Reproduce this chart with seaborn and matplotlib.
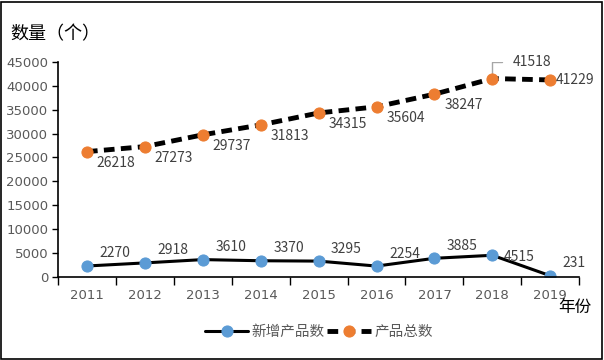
import numpy as np
import pandas as pd
import matplotlib.pyplot as plt
import seaborn as sns
from matplotlib.patches import Rectangle

years = ["2011", "2012", "2013", "2014", "2015", "2016", "2017", "2018", "2019"]
new_counts = [2270, 2918, 3610, 3370, 3295, 2254, 3885, 4515, 231]
total_counts = [26218, 27273, 29737, 31813, 34315, 35604, 38247, 41518, 41229]

sns.set_style("white")
plt.rcParams["font.family"] = ["Noto Sans CJK SC", "DejaVu Sans"]

df = pd.DataFrame({"pos": np.arange(len(years)), "新增产品数": new_counts, "产品总数": total_counts})

fig = plt.figure(figsize=(6.04, 3.6), dpi=100)
ax = fig.add_axes([0.096, 0.231, 0.863, 0.597])

tick_c = "#595959"
sns.lineplot(data=df, x="pos", y="新增产品数", ax=ax, color="black", lw=2.2,
             marker="o", markersize=8, markerfacecolor="#5B9BD5", markeredgecolor="#5B9BD5",
             label="新增产品数")
sns.lineplot(data=df, x="pos", y="产品总数", ax=ax, color="black", lw=3.5, dashes=(2.2, 1.3),
             marker="o", markersize=8, markerfacecolor="#ED7D31", markeredgecolor="#ED7D31",
             label="产品总数")

# data labels
for i, v in enumerate(new_counts):
    if i == 7:
        ax.annotate(str(v), (i, v), xytext=(8, -1), textcoords="offset points",
                    fontsize=10, color="#404040", va="center")
    else:
        ax.annotate(str(v), (i, v), xytext=(9, 4), textcoords="offset points",
                    fontsize=10, color="#404040", va="bottom")
for i, v in enumerate(total_counts):
    if i == 7:
        ax.annotate(str(v), (i, v), xytext=(15, 7), textcoords="offset points",
                    fontsize=10, color="#404040", va="bottom")
        ax.plot([i, i, i + 0.17], [v + 300, v + 3400, v + 3400], color="#A6A6A6", lw=1, zorder=1)
    elif i == 8:
        ax.annotate(str(v), (i, v), xytext=(4, 0), textcoords="offset points",
                    fontsize=10, color="#404040", va="center")
    else:
        ax.annotate(str(v), (i, v), xytext=(7, -3), textcoords="offset points",
                    fontsize=10, color="#404040", va="top")

ax.set_xlim(-0.5, len(years) - 0.5)
ax.set_ylim(0, 45000)
ax.set_yticks(np.arange(0, 45001, 5000))
ax.set_yticklabels([str(t) for t in range(0, 45001, 5000)], color=tick_c, fontsize=9.5,
                   family=["DejaVu Sans"])
ax.set_xticks(np.arange(-0.5, len(years), 1.0))
ax.set_xticklabels([])
ax.set_xticks(np.arange(len(years)), minor=True)
ax.set_xticklabels(years, minor=True, color=tick_c, fontsize=9.5, family=["DejaVu Sans"])
ax.tick_params(axis="x", which="major", direction="out", length=6, width=1, color="black", bottom=True)
ax.tick_params(axis="x", which="minor", length=0, pad=9)
ax.tick_params(axis="y", direction="out", length=4, width=1, color="black", left=True, pad=3)
ax.set_xlabel("")
ax.set_ylabel("")
for s in ["top", "right"]:
    ax.spines[s].set_visible(False)
for s in ["left", "bottom"]:
    ax.spines[s].set_color("black")
    ax.spines[s].set_linewidth(1.2)

fig.text(0.017, 0.905, "数量（个）", fontsize=13, color="black", va="center")
fig.text(0.925, 0.145, "年份", fontsize=12, color="black", va="center")

ax.legend(loc="upper center", bbox_to_anchor=(0.5, -0.165), ncol=2, frameon=False,
          fontsize=10.5, handlelength=3.0, columnspacing=0.2, handletextpad=0.2,
          labelcolor="#595959")

fig.add_artist(Rectangle((0.002, 0.003), 0.994, 0.992, transform=fig.transFigure,
                         fill=False, edgecolor="black", lw=1.2))

fig.savefig("out.png", dpi=100)
